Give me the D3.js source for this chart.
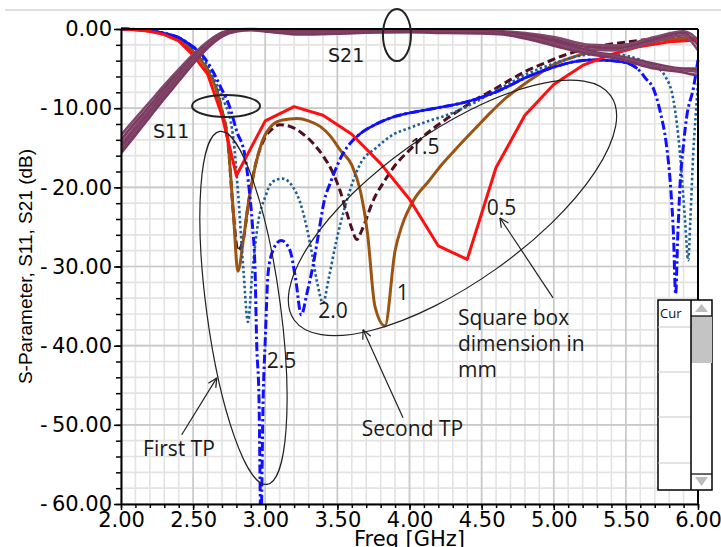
<!DOCTYPE html>
<html>
<head>
<meta charset="utf-8">
<script src="https://cdn.jsdelivr.net/npm/d3@7"></script>
<style>
  body { margin: 0; background: #fff; }
  svg { display: block; }
</style>
</head>
<body>
<svg width="721" height="547"></svg>
<script>
// --- DATA: S11 curves, [freq GHz, dB] per square box size ---
const s11_05 = [[2.0,0],[2.1,-0.1],[2.2,-0.3],[2.3,-0.7],[2.4,-1.5],[2.5,-3.3],[2.6,-5.7],[2.7,-10.9],[2.8,-18.5],[3.0,-11.6],[3.2,-9.8],[3.4,-10.9],[3.6,-13.3],[3.8,-17.0],[4.0,-21.5],[4.2,-27.4],[4.4,-29.1],[4.6,-17.5],[4.8,-10.9],[5.0,-7.0],[5.2,-4.6],[5.4,-3.2],[5.6,-2.2],[5.8,-1.6],[6.0,-1.4]];

const s11_10 = [[2.0,0],[2.2,-0.25],[2.4,-1.3],[2.5,-2.9],[2.6,-5.2],[2.66,-7.6],[2.7,-10.4],[2.74,-14.0],[2.78,-23.5],[2.81,-30.6],[2.85,-26.4],[2.88,-22.4],[2.93,-17.4],[2.975,-14.4],[3.05,-12.1],[3.12,-11.5],[3.22,-11.3],[3.3,-11.6],[3.38,-12.3],[3.45,-13.5],[3.52,-15.3],[3.6,-17.2],[3.66,-20.5],[3.71,-26],[3.76,-35],[3.83,-37.5],[3.9,-28],[3.945,-25],[4.03,-21.6],[4.13,-19.3],[4.23,-17.0],[4.35,-14.6],[4.47,-12.3],[4.56,-10.6],[4.65,-9.0],[4.77,-7.3],[4.88,-5.9],[5.0,-4.5],[5.16,-3.4],[5.3,-2.6],[5.5,-2.0],[5.74,-1.4],[6.0,-1.2]];

const s11_15 = [[2.0,0],[2.2,-0.25],[2.4,-1.3],[2.5,-2.85],[2.6,-5.1],[2.66,-7.5],[2.7,-10.3],[2.74,-14.0],[2.78,-23.5],[2.81,-28],[2.85,-26.4],[2.88,-22.4],[2.93,-17.3],[2.99,-14.0],[3.05,-12.6],[3.1,-12.1],[3.17,-12.3],[3.25,-13.1],[3.33,-14.4],[3.4,-16.0],[3.47,-18.2],[3.52,-20.5],[3.56,-22.9],[3.6,-25.2],[3.635,-26.6],[3.67,-25.4],[3.75,-21.6],[3.83,-19.1],[3.91,-17.0],[4.0,-15.3],[4.12,-13.2],[4.23,-11.7],[4.35,-10.2],[4.46,-8.9],[4.58,-7.7],[4.7,-6.4],[4.81,-5.3],[4.95,-4.2],[5.09,-3.2],[5.25,-2.4],[5.44,-1.8],[5.7,-1.3],[6.0,-1.2]];

const s11_20 = [[2.0,0],[2.2,-0.2],[2.4,-1.1],[2.5,-2.4],[2.6,-4.6],[2.66,-6.9],[2.72,-9.4],[2.76,-11.6],[2.78,-14.0],[2.81,-20.3],[2.85,-30.8],[2.88,-37.0],[2.91,-30.8],[2.95,-24.5],[3.0,-21.2],[3.05,-19.3],[3.12,-18.9],[3.19,-19.9],[3.24,-21.8],[3.31,-27.0],[3.36,-32],[3.4,-34.6],[3.44,-31.5],[3.49,-27.0],[3.56,-22.0],[3.66,-17.0],[3.77,-15.0],[3.89,-13.3],[4.0,-12.5],[4.12,-11.7],[4.24,-11.0],[4.35,-10.2],[4.47,-9.1],[4.58,-7.9],[4.7,-6.8],[4.81,-5.7],[4.92,-4.9],[5.04,-4.1],[5.15,-3.5],[5.27,-3.2],[5.4,-3.2],[5.51,-3.4],[5.6,-3.9],[5.69,-4.6],[5.77,-5.9],[5.83,-9.0],[5.875,-15.7],[5.91,-24.1],[5.932,-29.2],[5.947,-24.1],[5.967,-15.7],[5.99,-9.4],[6.0,-6.8]];

const s11_25 = [[2.0,0],[2.1,-0.05],[2.2,-0.2],[2.27,-0.45],[2.33,-0.7],[2.39,-1.0],[2.44,-1.5],[2.48,-2.0],[2.55,-3.0],[2.62,-4.8],[2.69,-7.3],[2.76,-10.2],[2.8,-12.8],[2.86,-16.1],[2.89,-20.5],[2.91,-24.5],[2.93,-30.8],[2.94,-39.3],[2.957,-47],[2.97,-63],[2.985,-47],[3.0,-39.3],[3.02,-30.8],[3.055,-27.9],[3.11,-26.7],[3.17,-27.9],[3.21,-31.5],[3.25,-36.1],[3.29,-33.3],[3.33,-30.0],[3.37,-25.8],[3.41,-21.6],[3.45,-19.5],[3.5,-17.2],[3.54,-15.7],[3.6,-14.2],[3.66,-13.2],[3.77,-12.0],[3.89,-11.1],[4.0,-10.6],[4.12,-10.2],[4.24,-9.8],[4.35,-9.4],[4.47,-8.8],[4.58,-8.1],[4.7,-7.1],[4.81,-6.1],[4.92,-5.3],[5.04,-4.6],[5.15,-4.1],[5.27,-3.9],[5.4,-4.0],[5.51,-4.3],[5.58,-5.0],[5.64,-6.3],[5.69,-7.5],[5.74,-10.6],[5.78,-14.5],[5.81,-19.9],[5.83,-26],[5.845,-33.5],[5.86,-26],[5.875,-19.9],[5.9,-14.5],[5.92,-11.3],[5.97,-7.3],[6.0,-3.9]];

// --- DATA: S21 curves (one per box size), shared frequency list ---
const freqS21 = [2.0,2.1,2.2,2.3,2.4,2.5,2.6,2.7,2.8,2.9,3.0,3.25,3.5,3.75,4.0,4.25,4.5,4.65,4.8,5.0,5.25,5.45,5.7,5.9,5.95,6.0];
const s21_a = [-13.4,-11.3,-9.2,-7.1,-5.1,-3.2,-1.6,-0.45,-0.05,0,-0.05,-0.1,-0.1,-0.1,-0.1,-0.15,-0.2,-0.3,-0.5,-1.0,-2.0,-2.1,-1.0,-0.3,-0.6,-1.4];
const s21_b = [-14.0,-11.8,-9.7,-7.5,-5.5,-3.5,-1.8,-0.55,-0.1,-0.05,-0.1,-0.3,-0.3,-0.2,-0.2,-0.25,-0.3,-0.45,-0.7,-1.3,-2.3,-2.4,-1.3,-0.5,-1.0,-2.0];
const s21_c = [-14.5,-12.3,-10.1,-7.9,-5.8,-3.8,-2.0,-0.65,-0.15,-0.05,-0.15,-0.45,-0.4,-0.3,-0.3,-0.35,-0.4,-0.55,-0.9,-1.6,-2.6,-2.7,-1.6,-0.8,-1.5,-2.7];
const s21_d = [-14.9,-12.7,-10.5,-8.2,-6.1,-4.0,-2.2,-0.75,-0.2,-0.1,-0.2,-0.5,-0.45,-0.3,-0.25,-0.3,-0.35,-0.5,-0.8,-1.5,-2.8,-3.4,-4.4,-5.0,-5.0,-5.0];
const s21_e = [-15.3,-13.0,-10.8,-8.5,-6.3,-4.2,-2.3,-0.85,-0.25,-0.1,-0.25,-0.6,-0.5,-0.4,-0.35,-0.4,-0.45,-0.6,-1.0,-1.8,-3.0,-3.6,-4.7,-5.2,-5.3,-5.4];
const s21_f = [-15.7,-13.4,-11.1,-8.8,-6.6,-4.4,-2.4,-0.95,-0.3,-0.15,-0.3,-0.7,-0.6,-0.45,-0.4,-0.5,-0.55,-0.7,-1.2,-2.1,-3.2,-3.8,-5.0,-5.5,-5.7,-5.8];

// --- TICKS ---
const xMajor = [2.0,2.5,3.0,3.5,4.0,4.5,5.0,5.5,6.0];
const xMinor = d3.range(20, 61).map(i => i / 10);
const yMajor = [0,-10,-20,-30,-40,-50,-60];
const yMinor = d3.range(-60, 1, 2);

const svg = d3.select("svg");
const x = d3.scaleLinear().domain([2, 6]).range([121, 698]);
const y = d3.scaleLinear().domain([-60, 0]).range([504, 29]);

// page edge line
svg.append("line").attr("x1", 5).attr("x2", 721).attr("y1", 10).attr("y2", 10)
  .attr("stroke", "#d6d6d6").attr("stroke-width", 1.5);

// --- GRID ---
const grid = svg.append("g");
grid.selectAll(".vmin").data(xMinor).enter().append("line")
  .attr("x1", d => x(d)).attr("x2", d => x(d)).attr("y1", y(0)).attr("y2", y(-60))
  .attr("stroke", "#e3e3e3").attr("stroke-width", 1.6);
grid.selectAll(".hmin").data(yMinor).enter().append("line")
  .attr("x1", x(2)).attr("x2", x(6)).attr("y1", d => y(d)).attr("y2", d => y(d))
  .attr("stroke", "#e3e3e3").attr("stroke-width", 1.6);
grid.selectAll(".vmaj").data(xMajor).enter().append("line")
  .attr("x1", d => x(d)).attr("x2", d => x(d)).attr("y1", y(0)).attr("y2", y(-60))
  .attr("stroke", "#c9c9c9").attr("stroke-width", 1.6);
grid.selectAll(".hmaj").data(yMajor).enter().append("line")
  .attr("x1", x(2)).attr("x2", x(6)).attr("y1", d => y(d)).attr("y2", d => y(d))
  .attr("stroke", "#c9c9c9").attr("stroke-width", 1.6);

// --- CURVES ---
svg.append("clipPath").attr("id", "plot").append("rect")
  .attr("x", x(2)).attr("y", y(0) - 4).attr("width", x(6) - x(2) + 2).attr("height", y(-60) - y(0) + 4);
const curves = svg.append("g").attr("clip-path", "url(#plot)");

const lineLin = d3.line().x(d => x(d[0])).y(d => y(d[1]));
const lineSmooth = d3.line().x(d => x(d[0])).y(d => y(d[1])).curve(d3.curveMonotoneX);

function draw(data, gen, color, width, dash) {
  curves.append("path").datum(data).attr("d", gen)
    .attr("fill", "none").attr("stroke", color).attr("stroke-width", width)
    .attr("stroke-dasharray", dash || null).attr("stroke-linejoin", "round");
}

draw(s11_15, lineSmooth, "#4e1020", 3, "8,4");
draw(s11_10, lineSmooth, "#9a5414", 3);
draw(s11_20, lineSmooth, "#1f5f95", 2.6, "2.5,2.5");
draw(s11_25, lineSmooth, "#1010ff", 3, "9,3,2.5,3");
// the blue trace reads as solid where it is flat
const blueSolid = d3.line().x(d => x(d[0])).y(d => y(d[1])).curve(d3.curveMonotoneX)
  .defined(d => d[0] <= 2.55 || (d[0] >= 3.6 && d[0] <= 5.58));
draw(s11_25, blueSolid, "#1010ff", 2.6);
draw(s11_05, lineLin, "#ff0f0f", 3);

[s21_a, s21_b, s21_c, s21_d, s21_e, s21_f].forEach((vals, i) => {
  const pts = freqS21.map((f, j) => [f, vals[j]]);
  draw(pts, lineSmooth, i % 2 ? "#7a3a60" : "#84466a", 2.6);
});

// --- AXES ---
const fmt = d => (d < 0 ? "-\u2009" : "") + Math.abs(d).toFixed(2);
const gy = svg.append("g").attr("transform", `translate(${x(2)},0)`)
  .call(d3.axisLeft(y).tickValues(yMajor).tickFormat(fmt).tickSize(7).tickPadding(2).tickSizeOuter(0));
const gy2 = svg.append("g").attr("transform", `translate(${x(2)},0)`)
  .call(d3.axisLeft(y).tickValues(yMinor).tickFormat("").tickSize(5));
const gx = svg.append("g").attr("transform", `translate(0,${y(-60)})`)
  .call(d3.axisBottom(x).tickValues(xMajor).tickFormat(fmt).tickSize(6).tickPadding(2).tickSizeOuter(0));
const gx2 = svg.append("g").attr("transform", `translate(0,${y(-60)})`)
  .call(d3.axisBottom(x).tickValues(xMinor).tickFormat("").tickSize(4));
gy2.select(".domain").remove();
gx2.select(".domain").remove();
[gy, gx].forEach(g => {
  g.attr("font-family", "DejaVu Sans").attr("font-size", 21);
  g.selectAll("text").attr("fill", "#000");
  g.select(".domain").attr("stroke", "#000").attr("stroke-width", 2);
});
[gy, gy2, gx, gx2].forEach(g => g.selectAll(".tick line").attr("stroke", "#000").attr("stroke-width", 1.5));

// frame top + right
svg.append("line").attr("x1", x(2)).attr("x2", x(6)).attr("y1", y(0)).attr("y2", y(0))
  .attr("stroke", "#000").attr("stroke-width", 2);
svg.append("line").attr("x1", x(6)).attr("x2", x(6)).attr("y1", y(0)).attr("y2", y(-60))
  .attr("stroke", "#000").attr("stroke-width", 2);

svg.append("text").attr("transform", `translate(32,${(y(0) + y(-60)) / 2})rotate(-90)`)
  .attr("text-anchor", "middle").attr("font-family", "Liberation Sans").attr("font-size", 19)
  .text("S-Parameter, S11, S21 (dB)");
svg.append("text").attr("x", (x(2) + x(6)) / 2).attr("y", 546).attr("text-anchor", "middle")
  .attr("font-family", "DejaVu Sans").attr("font-size", 21).text("Freq [GHz]");

// --- ANNOTATIONS ---
const ann = svg.append("g").attr("fill", "none").attr("stroke", "#222");
function ellipse(f, db, rx, ry, rot, w) {
  ann.append("ellipse").attr("cx", x(f)).attr("cy", y(db)).attr("rx", rx).attr("ry", ry)
    .attr("transform", `rotate(${rot} ${x(f)} ${y(db)})`).attr("stroke-width", w);
}
ellipse(3.913, -0.76, 14, 26, 0, 2);
ellipse(2.728, -9.72, 34, 11, 0, 2);
ellipse(2.849, -35.23, 37, 178, -7.6, 1.2);
ellipse(4.298, -22.6, 194, 75, -35.3, 1.2);

function arrow(f1, d1, f2, d2) {
  const x1 = x(f1), y1 = y(d1), x2 = x(f2), y2 = y(d2);
  const a = Math.atan2(y1 - y2, x1 - x2);
  ann.append("line").attr("x1", x1).attr("y1", y1).attr("x2", x2).attr("y2", y2).attr("stroke-width", 1.2);
  [0.45, -0.45].forEach(s => {
    ann.append("line").attr("x1", x2).attr("y1", y2)
      .attr("x2", x2 + 10 * Math.cos(a + s)).attr("y2", y2 + 10 * Math.sin(a + s)).attr("stroke-width", 1.2);
  });
}
arrow(2.421, -51.26, 2.664, -44.07);
arrow(3.955, -49.1, 3.678, -38.0);
arrow(4.995, -33.96, 4.627, -23.86);

function label(f, db, txt, font, size) {
  svg.append("text").attr("x", x(f)).attr("y", y(db)).attr("font-family", font)
    .attr("font-size", size).attr("fill", "#1a1a1a").text(txt);
}
label(3.435, -4.17, "S21", "DejaVu Sans", 19);
label(2.222, -13.76, "S11", "DejaVu Sans", 19);
label(3.01, -42.8, "2.5", "Open Sans", 21);
label(3.368, -36.53, "2.0", "Open Sans", 21);
label(4.003, -15.78, "1.5", "Open Sans", 21);
label(3.911, -34.2, "1", "Open Sans", 21);
label(4.535, -23.48, "0.5", "Open Sans", 21);
label(2.153, -53.9, "First TP", "Open Sans", 21);
label(3.669, -51.4, "Second TP", "Open Sans", 21);
label(4.336, -37.37, "Square box", "Open Sans", 21);
label(4.336, -40.65, "dimension in", "Open Sans", 21);
label(4.336, -43.93, "mm", "Open Sans", 21);

// --- CURSOR WIDGET ---
const w = svg.append("g");
w.append("rect").attr("x", 658).attr("y", 300).attr("width", 54).attr("height", 190)
  .attr("fill", "#fff").attr("stroke", "#000").attr("stroke-width", 1.5);
w.append("rect").attr("x", 691).attr("y", 316).attr("width", 21).attr("height", 47).attr("fill", "#c4c4c4");
[327, 372, 417, 463].forEach(v => w.append("line").attr("x1", 658).attr("x2", 691)
  .attr("y1", v).attr("y2", v).attr("stroke", "#c8c8c8").attr("stroke-width", 1.2));
w.append("line").attr("x1", 691).attr("x2", 691).attr("y1", 300).attr("y2", 490).attr("stroke", "#000").attr("stroke-width", 1.5);
[316, 474].forEach(v => w.append("line").attr("x1", 691).attr("x2", 712)
  .attr("y1", v).attr("y2", v).attr("stroke", "#000").attr("stroke-width", 1.2));
w.append("path").attr("d", "M695,312L708,312L701.5,304Z").attr("fill", "#bdbdbd");
w.append("path").attr("d", "M695,477L708,477L701.5,486Z").attr("fill", "#bdbdbd");
w.append("text").attr("x", 660).attr("y", 318).attr("font-family", "Open Sans").attr("font-size", 13)
  .attr("fill", "#111").text("Cur");
</script>
</body>
</html>
